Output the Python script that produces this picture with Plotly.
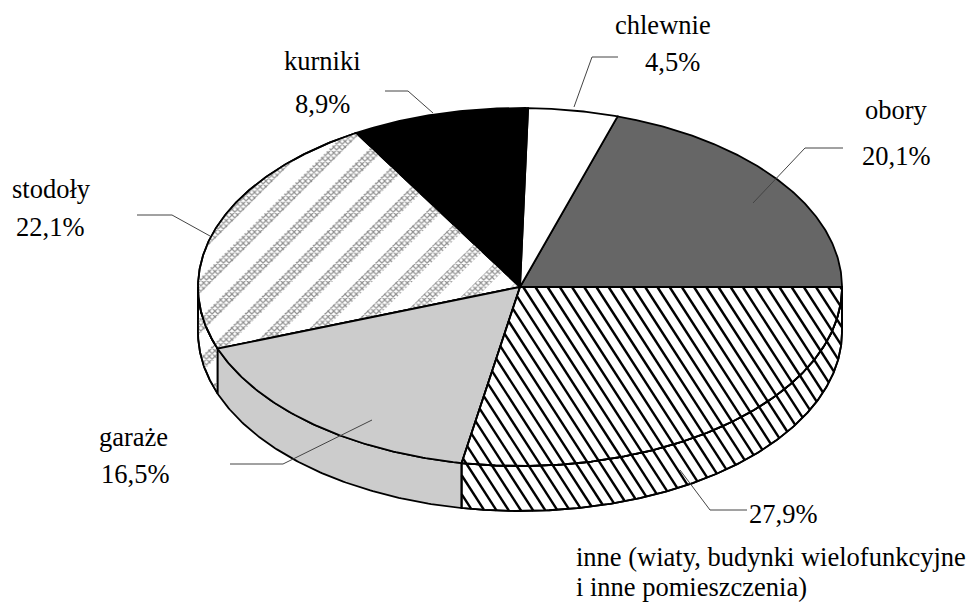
import numpy as np
import plotly.graph_objects as go

categories = ["obory", "chlewnie", "kurniki", "stodoły", "garaże", "inne"]
shares = [20.1, 4.5, 8.9, 22.1, 16.5, 27.9]
share_labels = ["20,1%", "4,5%", "8,9%", "22,1%", "16,5%", "27,9%"]

# Page geometry of the tilted disc (pixels)
W, H = 972, 603
CX, CY, RX, RY, DEPTH = 520, 287, 322, 179, 45
FONT = "Liberation Serif"
FS = 26.5

vals = np.array(shares)
edges = np.concatenate([[0], np.cumsum(vals) / vals.sum() * 360])


def arc(a0, a1, dy=0.0):
    t = np.radians(np.linspace(a0, a1, max(int(abs(a1 - a0) * 2), 3)))
    return CX + RX * np.cos(t), CY - RY * np.sin(t) + dy


def wedge(a0, a1):
    x, y = arc(a0, a1)
    return np.r_[CX, x, CX], np.r_[CY, y, CY]


def wall(a0, a1):
    x0, y0 = arc(a0, a1)
    x1, y1 = arc(a1, a0, DEPTH)
    return np.r_[x0, x1, x0[0]], np.r_[y0, y1, y0[0]]


def hatch(px, py, slope, spacing, x0):
    """Clip parallel lines against a polygon; x0 is where one line crosses y=CY."""
    xs, ys = [], []
    offs = px - (py - CY) / slope
    for c in np.arange(x0 + np.ceil((offs.min() - x0) / spacing) * spacing, offs.max(), spacing):
        hits = []
        for i in range(len(px) - 1):
            a, b = offs[i] - c, offs[i + 1] - c
            if a * b < 0:
                t = a / (a - b)
                hits.append(py[i] + t * (py[i + 1] - py[i]))
        hits.sort()
        for j in range(0, len(hits) - 1, 2):
            for yy in (hits[j], hits[j + 1]):
                xs.append(c + (yy - CY) / slope)
                ys.append(yy)
            xs.append(None)
            ys.append(None)
    return xs, ys


def clip_half(pts, f):
    """Keep the part of polygon pts where f(p) >= 0."""
    out = []
    for i in range(len(pts)):
        p, q = pts[i], pts[(i + 1) % len(pts)]
        fp, fq = f(p), f(q)
        if fp >= 0:
            out.append(p)
        if fp * fq < 0:
            t = fp / (fp - fq)
            out.append((p[0] + t * (q[0] - p[0]), p[1] + t * (q[1] - p[1])))
    return out


def bands(px, py, slope, spacing, width, c0):
    """Parallel rising stripes clipped to a polygon."""
    pts = list(zip(px[:-1], py[:-1]))
    offs = px + (py - CY) / slope
    xs, ys = [], []
    for c in np.arange(c0 + np.floor((offs.min() - c0) / spacing) * spacing, offs.max(), spacing):
        g = lambda p: p[0] + (p[1] - CY) / slope
        part = clip_half(pts, lambda p: g(p) - c)
        part = clip_half(part, lambda p: c + width - g(p)) if part else part
        if len(part) > 2:
            xs += [p[0] for p in part] + [part[0][0], None]
            ys += [p[1] for p in part] + [part[0][1], None]
    return xs, ys


fig = go.Figure()


def poly(x, y, color="white", line=1.8, name=""):
    fig.add_trace(go.Scatter(
        x=x, y=y, mode="lines", fill="toself", fillcolor=color,
        line=dict(color="black", width=line), name=name, hoverinfo="name"))


def outline(x, y, line=1.8):
    fig.add_trace(go.Scatter(x=x, y=y, mode="lines", line=dict(color="black", width=line), hoverinfo="skip"))


def hatch_lines(x, y):
    hx, hy = hatch(np.asarray(x), np.asarray(y), 1.55, 12.2, 755)
    fig.add_trace(go.Scatter(x=hx, y=hy, mode="lines", line=dict(color="black", width=2.4),
                             hoverinfo="skip"))


def stipple(x, y):
    bx, by = bands(np.asarray(x), np.asarray(y), 1.0, 40, 16, 191)
    fig.add_trace(go.Scatter(
        x=bx, y=by, mode="lines", fill="toself", line=dict(width=0, color="rgba(0,0,0,0)"),
        fillcolor="white", fillpattern=dict(shape="x", size=4, solidity=0.5, fgcolor="#222222", bgcolor="white"),
        hoverinfo="skip"))


solid = {"obory": "#666666", "chlewnie": "white", "kurniki": "black", "garaże": "#cccccc"}

# walls visible below the disc
x, y = wall(180, edges[4])
poly(x, y, name="stodoły")
stipple(x, y)
outline(x, y)
x, y = wall(edges[4], edges[5])
poly(x, y, color="#cccccc", name="garaże")
x, y = wall(edges[5], edges[6])
poly(x, y, name="inne")
hatch_lines(x, y)
outline(x, y)

# top of the disc
for i, cat in enumerate(categories):
    x, y = wedge(edges[i], edges[i + 1])
    if cat == "stodoły":
        poly(x, y, name=cat)
        stipple(x, y)
        outline(x, y)
    elif cat == "inne":
        poly(x, y, name=cat)
        hatch_lines(x, y)
        outline(x, y)
    else:
        poly(x, y, color=solid[cat], name=cat)

# leader lines
leaders = [
    ([843, 805, 753], [148, 148, 203]),
    ([618, 592, 574], [57, 57, 107]),
    ([385, 408, 433], [91, 91, 113]),
    ([137, 172, 210], [215, 215, 236]),
    ([230, 283, 372], [464, 464, 420]),
    ([747, 710, 680], [510, 510, 470]),
]
for lx, ly in leaders:
    fig.add_trace(go.Scatter(x=lx, y=ly, mode="lines", line=dict(color="#444444", width=1), hoverinfo="skip"))

name_pos = [(896, 110), (663, 25), (322, 61), (51, 189), (133, 437)]
val_pos = [(896, 156), (672, 62), (322, 104), (50, 227), (135, 474), (783, 514)]
ann = []
for (px, py), t in zip(name_pos, categories):
    ann.append(dict(x=px, y=py, text=t))
for (px, py), t in zip(val_pos, share_labels):
    ann.append(dict(x=px, y=py, text=t))
for a in ann:
    a.update(xref="x", yref="y", showarrow=False, xanchor="center", yanchor="middle")
ann.append(dict(x=574, y=557, text="inne (wiaty, budynki wielofunkcyjne", xref="x", yref="y",
                showarrow=False, xanchor="left", yanchor="middle"))
ann.append(dict(x=574, y=587, text="i inne pomieszczenia)", xref="x", yref="y",
                showarrow=False, xanchor="left", yanchor="middle"))

fig.update_layout(
    width=W, height=H, margin=dict(l=0, r=0, t=0, b=0), autosize=False,
    paper_bgcolor="white", plot_bgcolor="white", showlegend=False,
    font=dict(family=FONT, size=FS, color="black"), annotations=ann,
    xaxis=dict(range=[0, W], visible=False, fixedrange=True),
    yaxis=dict(range=[H, 0], visible=False, fixedrange=True),
)
fig.write_html("out.html", config=dict(displayModeBar=False),
               post_script="document.body.style.margin='0';document.documentElement.style.overflow='hidden';")
